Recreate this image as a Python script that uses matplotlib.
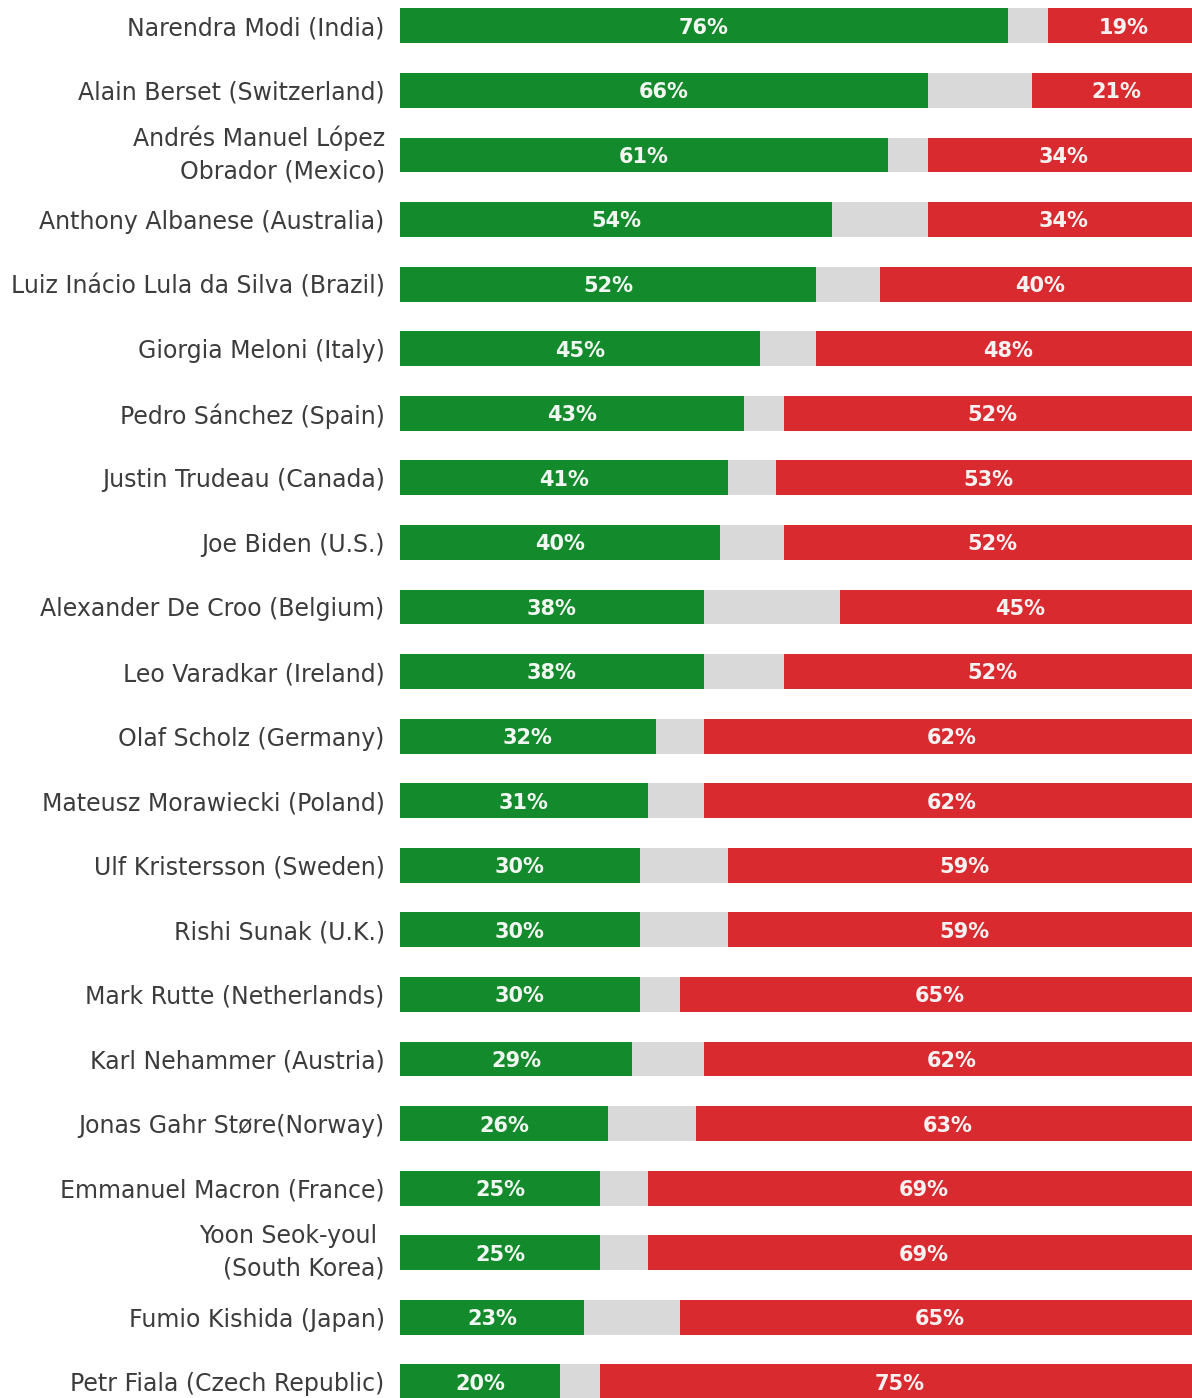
import matplotlib.pyplot as plt

# approval ratings, top to bottom
leaders = [
    "Narendra Modi (India)",
    "Alain Berset (Switzerland)",
    "Andrés Manuel López\nObrador (Mexico)",
    "Anthony Albanese (Australia)",
    "Luiz Inácio Lula da Silva (Brazil)",
    "Giorgia Meloni (Italy)",
    "Pedro Sánchez (Spain)",
    "Justin Trudeau (Canada)",
    "Joe Biden (U.S.)",
    "Alexander De Croo (Belgium)",
    "Leo Varadkar (Ireland)",
    "Olaf Scholz (Germany)",
    "Mateusz Morawiecki (Poland)",
    "Ulf Kristersson (Sweden)",
    "Rishi Sunak (U.K.)",
    "Mark Rutte (Netherlands)",
    "Karl Nehammer (Austria)",
    "Jonas Gahr Støre(Norway)",
    "Emmanuel Macron (France)",
    "Yoon Seok-youl \n(South Korea)",
    "Fumio Kishida (Japan)",
    "Petr Fiala (Czech Republic)",
]
approve = [76, 66, 61, 54, 52, 45, 43, 41, 40, 38, 38, 32, 31, 30, 30, 30, 29, 26, 25, 25, 23, 20]
neutral = [5, 13, 5, 12, 8, 7, 5, 6, 8, 17, 10, 6, 7, 11, 11, 5, 9, 11, 6, 6, 12, 5]
disapprove = [19, 21, 34, 34, 40, 48, 52, 53, 52, 45, 52, 62, 62, 59, 59, 65, 62, 63, 69, 69, 65, 75]

GREEN = '#138a2c'
GREY = '#d9d9d9'
RED = '#d92a30'

fig = plt.figure(figsize=(11.92, 13.98), dpi=100)
ax = fig.add_axes([400 / 1192, 0, 792 / 1192, 1])

y = list(range(len(leaders)))
h = 0.54
ax.barh(y, approve, height=h, color=GREEN)
ax.barh(y, neutral, left=approve, height=h, color=GREY)
left_red = [a + n for a, n in zip(approve, neutral)]
ax.barh(y, disapprove, left=left_red, height=h, color=RED)

for i in y:
    ax.text(approve[i] / 2, i + 0.03, f'{approve[i]}%', ha='center', va='center',
            color='#f2f7f2', fontsize=15, fontweight='bold', family='DejaVu Sans')
    ax.text(left_red[i] + disapprove[i] / 2, i + 0.03, f'{disapprove[i]}%', ha='center', va='center',
            color='#f7f2f2', fontsize=15, fontweight='bold', family='DejaVu Sans')

ax.set_xlim(0, 99)
ax.set_ylim(21.25, -0.40)
ax.set_yticks(y)
ax.set_yticklabels(leaders, fontsize=17, family='DejaVu Sans', color='#3c3c3c', linespacing=1.45)
# two-line names sit centred on the bar
for lbl in ax.get_yticklabels():
    if '\n' in lbl.get_text():
        lbl.set_va('center')
ax.tick_params(axis='y', length=0, pad=11)
ax.set_xticks([])
for s in ax.spines.values():
    s.set_visible(False)

plt.savefig('out.png', dpi=100)
